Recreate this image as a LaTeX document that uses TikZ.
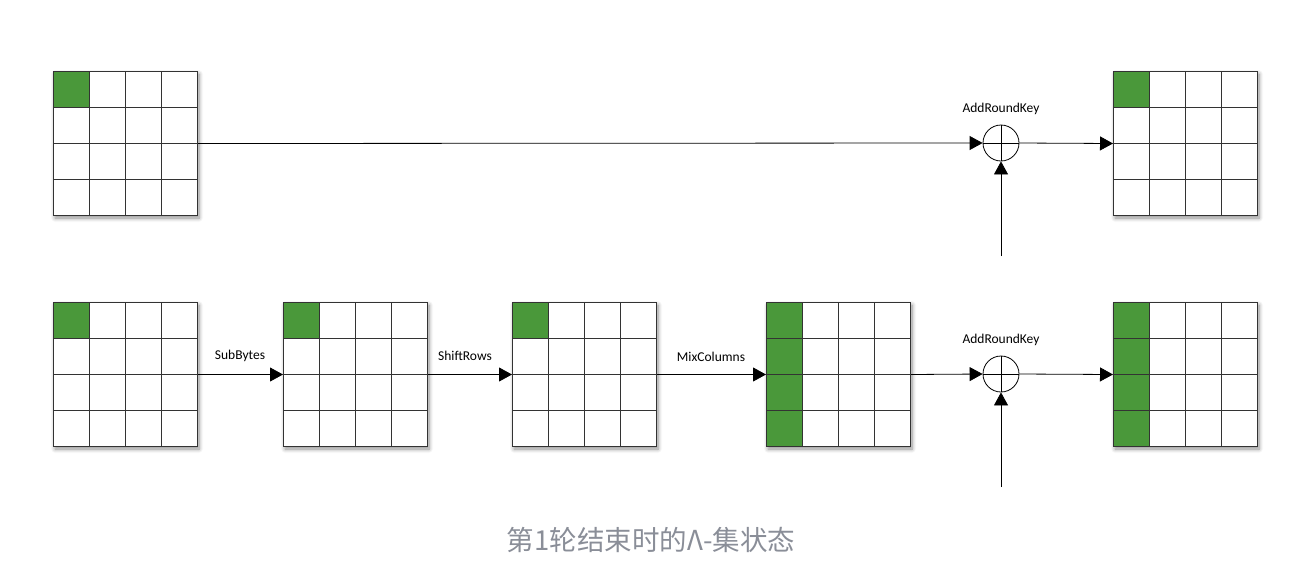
\documentclass[tikz,border=0pt]{standalone}
\usepackage{fontspec}
\setmainfont{Carlito}
\newfontfamily\cjk{Noto Sans CJK SC}
\usetikzlibrary{arrows.meta,shadows.blur}
\definecolor{cellgreen}{RGB}{74,152,58}
\definecolor{captgray}{RGB}{138,142,152}
\tikzset{
  gridbox/.style={draw=black!80, line width=1pt, minimum size=144pt, inner sep=0pt, fill=white,
    blur shadow={shadow xshift=1.5pt, shadow yshift=-2.5pt, shadow blur steps=6, shadow opacity=45, shadow blur radius=4pt}},
  cellline/.style={draw=black!80, line width=0.9pt},
  xorc/.style={circle, draw=black, line width=0.8pt, minimum size=36pt, inner sep=0pt, fill=white,
    path picture={\draw[line width=0.8pt] (path picture bounding box.north) -- (path picture bounding box.south);
                  \draw[line width=0.8pt] (path picture bounding box.west) -- (path picture bounding box.east);}},
  flow/.style={-{Triangle[length=13pt,width=14pt]}, line width=0.8pt},
  lbl/.style={font=\fontsize{13.5}{16}\selectfont, inner sep=0pt},
  capt/.style={font=\cjk\fontsize{27.5}{32}\selectfont, text=captgray, inner sep=0pt}
}
\newcommand\stategrid[4]{%
  \begin{scope}[shift={(#2,#3)}]
    \node[gridbox, anchor=north west] (#1) at (0,0) {};
    \fill[cellgreen] (0,0) rectangle (36,#4);
    \foreach \i in {36,72,108} {
      \draw[cellline] (\i,0) -- (\i,144);
      \draw[cellline] (0,\i) -- (144,\i);
    }
    \draw[draw=black!80, line width=1pt] (0,0) rectangle (144,144);
  \end{scope}}
\begin{document}
\begin{tikzpicture}[x=1pt,y=-1pt]
\useasboundingbox (0,0) rectangle (1305,579);
% grids
\stategrid{g1}{53}{71}{36}
\stategrid{g2}{1113}{71}{36}
\stategrid{b1}{53}{302}{36}
\stategrid{b2}{283}{302}{36}
\stategrid{b3}{512}{302}{36}
\stategrid{b4}{766}{302}{144}
\stategrid{b5}{1113}{302}{144}
% xor nodes
\node[xorc] (x1) at (1001,143) {};
\node[xorc] (x2) at (1001,374) {};
\coordinate (k1) at (1001,256);
\coordinate (k2) at (1001,487);
% labels
\node[lbl] (l1) at (1001,109) {AddRoundKey};
\node[lbl] (l2) at (1001,340) {AddRoundKey};
\node[lbl] (l3) at (240,356) {SubBytes};
\node[lbl] (l4) at (465,356) {ShiftRows};
\node[lbl] (l5) at (711,357) {MixColumns};
% connectors
\draw[flow] (g1.east) -- (x1.west);
\draw[flow] (x1.east) -- (g2.west);
\draw[flow] (k1) -- (x1.south);
\draw[flow] (b1.east) -- (b2.west);
\draw[flow] (b2.east) -- (b3.west);
\draw[flow] (b3.east) -- (b4.west);
\draw[flow] (b4.east) -- (x2.west);
\draw[flow] (x2.east) -- (b5.west);
\draw[flow] (k2) -- (x2.south);
% caption
\node[capt] (cap) at (651,540) {第1轮结束时的Λ-集状态};
\end{tikzpicture}
\end{document}
